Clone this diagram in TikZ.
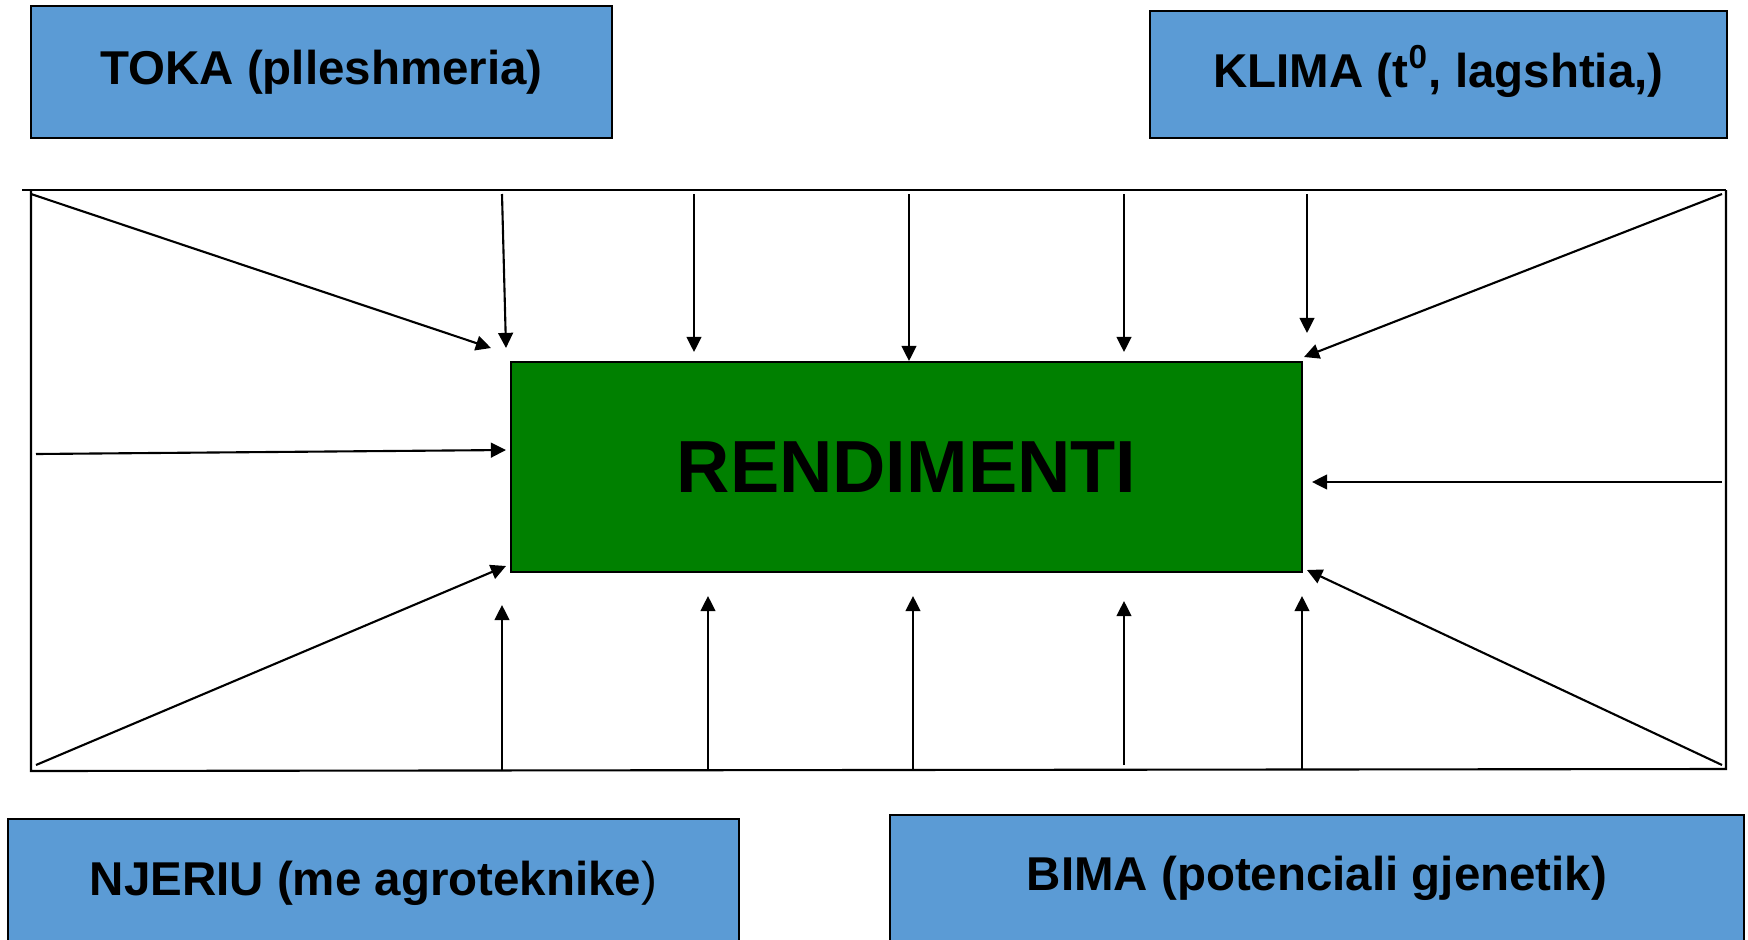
\documentclass[tikz,border=0pt]{standalone}
\usepackage{fontspec}
\setmainfont{Liberation Sans}
\usepackage{tikz}
\usetikzlibrary{arrows.meta, positioning}
\definecolor{factorblue}{HTML}{5B9BD5}
\definecolor{yieldgreen}{HTML}{008000}

\begin{document}
\begin{tikzpicture}[x=0.01cm, y=-0.01cm, >={Triangle[length=4.3pt, width=4.2pt]},
  factor/.style={rectangle, draw=black, fill=factorblue, line width=0.6pt, inner sep=0pt, text height=0.72em, text depth=0pt, font=\bfseries\fontsize{13.5}{16}\selectfont},
  yield/.style={rectangle, draw=black, fill=yieldgreen, line width=0.6pt, inner sep=0pt, font=\bfseries\fontsize{21}{25}\selectfont},
  link/.style={->, line width=0.6pt, black}]
  \clip (0,0) rectangle (1748,939);
  \fill[white] (0,0) rectangle (1748,939);

  % frame
  \coordinate (ftl) at (31,190);
  \coordinate (ftr) at (1726,190);
  \coordinate (fbl) at (31,771);
  \coordinate (fbr) at (1726,769);
  \draw[line width=0.6pt] (22,190) -- (ftr);
  \draw[line width=0.6pt] (ftl) -- (fbl) -- (fbr) -- (ftr);

  % factors
  \node[factor, minimum width=5.81cm, minimum height=1.32cm] (toka) at (321.5,72) {TOKA (plleshmeria)};
  \node[factor, minimum width=5.77cm, minimum height=1.27cm] (klima) at (1438.5,74.5) {KLIMA (t\textsuperscript{0}, lagshtia,)};
  \node[factor, minimum width=7.31cm, minimum height=1.28cm] (njeriu) at (373.5,883) {NJERIU (me agroteknike\textmd{)}};
  \node[factor, minimum width=8.54cm, minimum height=1.26cm] (bima) at (1317,878) {BIMA (potenciali gjenetik)};

  % result
  \node[yield, minimum width=7.91cm, minimum height=2.10cm] (rend) at (906.5,467) {RENDIMENTI};

  % arrows into the result
  \foreach \n/\sx/\sy/\ex/\ey in {
      1/31/194/491/348, 2/502/194/506/348, 3/694/194/694/352,
      4/909/194/909/361, 5/1124/194/1124/352, 6/1307/194/1307/333,
      7/1722/194/1304/357, 8/36/454/506/450, 9/1722/482/1312/482,
      10/36/765/506/566, 11/502/771/502/605, 12/708/769/708/596,
      13/913/769/913/596, 14/1124/765/1124/601, 15/1302/769/1302/596,
      16/1722/765/1307/570} {
    \coordinate (s\n) at (\sx,\sy);
    \coordinate (e\n) at (\ex,\ey);
    \draw[link] (s\n) -- (e\n);
  }
\end{tikzpicture}
\end{document}
